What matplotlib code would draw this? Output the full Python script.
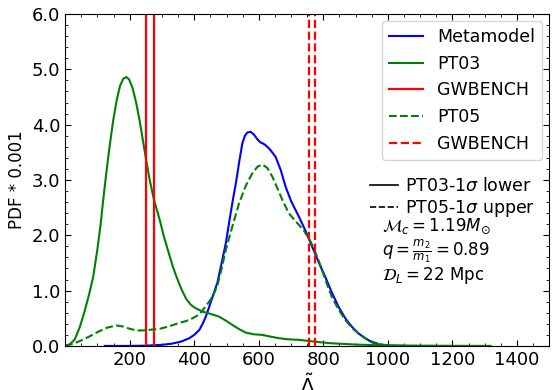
import matplotlib
matplotlib.use("Agg")
import matplotlib.pyplot as plt
from matplotlib.ticker import MultipleLocator
from matplotlib.lines import Line2D

# values (Lambda-tilde, PDF * 0.001)
meta_x = [123, 200, 250, 300, 330, 360, 385, 400, 416, 426, 436, 446, 457, 472, 485, 498,
          510, 520, 529, 540, 549, 557, 565, 575, 585, 595, 605, 613, 621, 635, 652, 668,
          683, 700, 724, 745, 765, 785, 806, 826, 847, 868, 888, 908, 929, 950, 970, 990,
          1010, 1050]
meta_y = [0.0, 0.0, 0.005, 0.02, 0.04, 0.08, 0.14, 0.2, 0.29, 0.4, 0.53, 0.7, 0.89, 1.15,
          1.5, 1.86, 2.3, 2.65, 2.94, 3.35, 3.66, 3.8, 3.86, 3.87, 3.82, 3.74, 3.68, 3.66,
          3.63, 3.55, 3.42, 3.18, 2.88, 2.62, 2.34, 2.08, 1.80, 1.52, 1.25, 0.97, 0.71, 0.5,
          0.35, 0.23, 0.14, 0.07, 0.03, 0.015, 0.005, 0.0]

pt03_x = [0, 15, 30, 46, 60, 75, 87, 100, 110, 118, 128, 138, 149, 160, 170, 180, 190, 198,
          208, 220, 230, 240, 251, 262, 275, 293, 305, 320, 334, 345, 360, 375, 390, 405,
          426, 450, 477, 500, 518, 540, 560, 585, 611, 635, 662, 690, 724, 755, 785, 820,
          850, 900, 950, 1000, 1100, 1200, 1318]
pt03_y = [0.0, 0.03, 0.12, 0.35, 0.62, 0.95, 1.25, 1.75, 2.2, 2.64, 3.15, 3.62, 4.08, 4.45,
          4.7, 4.83, 4.86, 4.82, 4.68, 4.4, 4.1, 3.75, 3.36, 3.0, 2.65, 2.28, 2.0, 1.7, 1.43,
          1.25, 1.03, 0.85, 0.74, 0.68, 0.62, 0.58, 0.53, 0.45, 0.38, 0.3, 0.24, 0.21, 0.20,
          0.17, 0.14, 0.12, 0.11, 0.09, 0.07, 0.05, 0.04, 0.025, 0.015, 0.01, 0.005, 0.002,
          0.0]

pt05_x = [0, 25, 50, 75, 100, 130, 159, 180, 200, 221, 240, 260, 293, 320, 350, 375, 395,
          416, 436, 457, 472, 485, 498, 520, 539, 560, 580, 596, 611, 626, 642, 657, 673,
          693, 710, 724, 740, 755, 770, 785, 805, 826, 847, 868, 888, 909, 930, 950, 975,
          1000]
pt05_y = [0.0, 0.04, 0.1, 0.17, 0.25, 0.33, 0.37, 0.35, 0.31, 0.28, 0.28, 0.29, 0.31, 0.35,
          0.41, 0.45, 0.5, 0.57, 0.72, 0.89, 1.1, 1.4, 1.74, 2.2, 2.58, 2.9, 3.12, 3.24, 3.28,
          3.22, 3.06, 2.86, 2.64, 2.40, 2.28, 2.19, 2.08, 1.95, 1.77, 1.55, 1.22, 0.89, 0.66,
          0.47, 0.33, 0.23, 0.14, 0.08, 0.03, 0.01]

gwbench_pt03 = [250, 274]
gwbench_pt05 = [757, 775]

xticks = [200, 400, 600, 800, 1000, 1200, 1400]
yticks = [0, 1, 2, 3, 4, 5, 6]

fig = plt.figure(figsize=(5.52, 3.9), dpi=100)
ax = fig.add_axes([0.118, 0.113, 0.877, 0.851])

ax.plot(meta_x, meta_y, color='blue', lw=1.5, label='Metamodel')
ax.plot(pt03_x, pt03_y, color='green', lw=1.5, label='PT03')
for i, v in enumerate(gwbench_pt03):
    ax.axvline(v, color='red', lw=1.6, label='GWBENCH' if i == 0 else None)
ax.plot(pt05_x, pt05_y, color='green', lw=1.5, ls='--', label='PT05')
for i, v in enumerate(gwbench_pt05):
    ax.axvline(v, color='red', lw=1.6, ls='--', label='GWBENCH' if i == 0 else None)

ax.set_xlim(0, 1500)
ax.set_ylim(0, 6)
ax.set_xticks(xticks)
ax.set_yticks(yticks)
ax.set_yticklabels(['%.1f' % t for t in yticks])
ax.xaxis.set_minor_locator(MultipleLocator(50))
ax.yaxis.set_minor_locator(MultipleLocator(0.2))
ax.tick_params(which='both', direction='in', top=True, right=True, labelsize=13)
ax.tick_params(which='major', length=4.5)
ax.tick_params(which='minor', length=2.5)

ax.set_xlabel(r'$\tilde{\Lambda}$', fontsize=14)
ax.set_ylabel('PDF * 0.001', fontsize=12)

leg1 = ax.legend(loc='upper right', fontsize=12.5, borderaxespad=0.4)
ax.add_artist(leg1)
handles = [Line2D([], [], color='black', lw=1.2),
           Line2D([], [], color='black', lw=1.2, ls='--')]
ax.legend(handles, [r'PT03-1$\sigma$ lower', r'PT05-1$\sigma$ upper'],
          loc='upper left', bbox_to_anchor=(0.605, 0.545), frameon=False,
          fontsize=12.5, handlelength=1.6, handletextpad=0.4, labelspacing=0.15,
          borderpad=0.2)

ax.text(0.655, 0.347, r'$\mathcal{M}_c = 1.19 M_{\odot}$', transform=ax.transAxes, fontsize=12)
ax.text(0.655, 0.270, r'$q = \frac{m_2}{m_1} = 0.89$', transform=ax.transAxes, fontsize=12)
ax.text(0.655, 0.198, r'$\mathcal{D}_L = 22$ Mpc', transform=ax.transAxes, fontsize=12)

fig.savefig('out.png', dpi=100)
